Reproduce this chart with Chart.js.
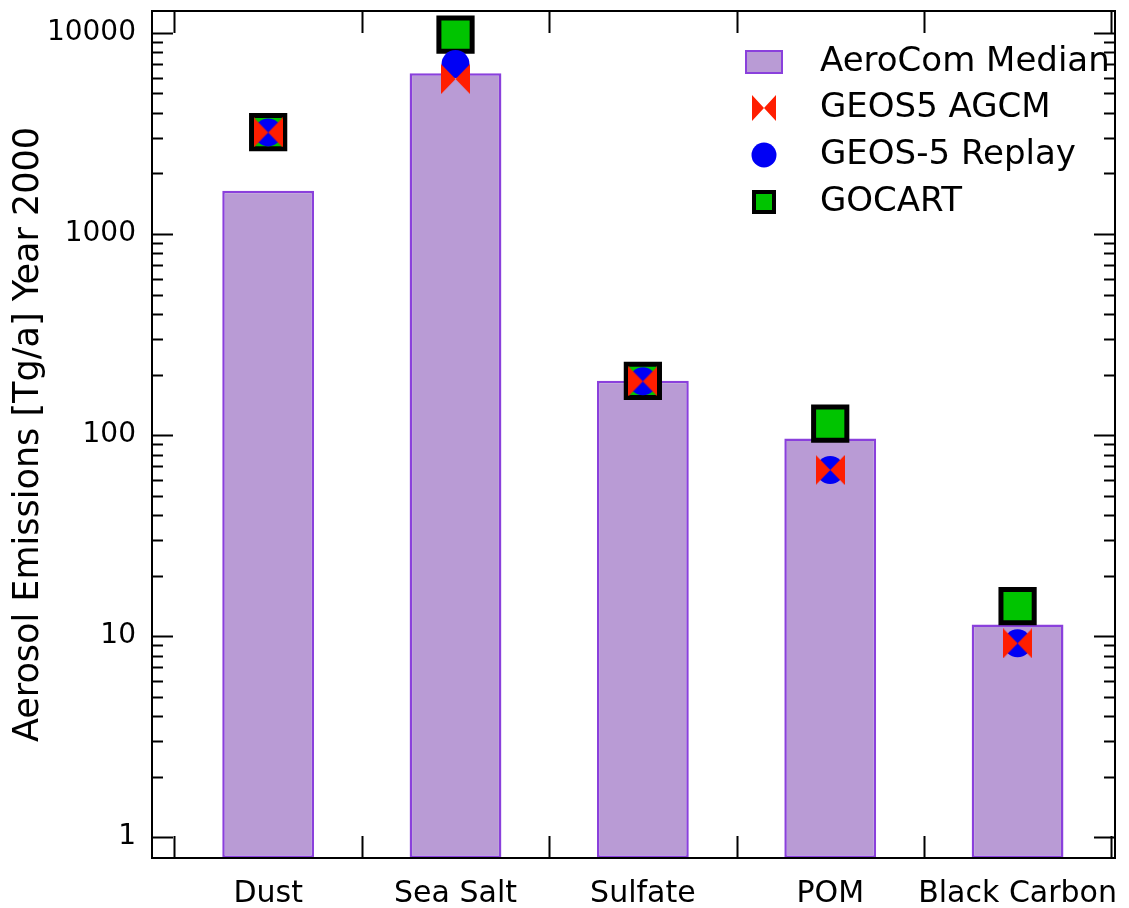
<!DOCTYPE html>
<html>
<head>
<meta charset="utf-8">
<title>Aerosol Emissions</title>
<script src="https://cdn.jsdelivr.net/npm/chart.js@4.4.1/dist/chart.umd.min.js"></script>
<style>
  html, body { margin: 0; padding: 0; background: #fff; }
  #wrap { width: 1129px; height: 908px; position: relative; }
</style>
</head>
<body>
<div id="wrap"><canvas id="emisChart"></canvas></div>
<script>
const categories = ["Dust", "Sea Salt", "Sulfate", "POM", "Black Carbon"];
const aerocomMedian = [1640, 6300, 186, 96, 11.4];
const geos5Agcm = [3200, 5900, 185, 67, 9.2];
const geos5Replay = [3200, 7000, 185, 67, 9.2];
const gocart = [3210, 9800, 186, 114, 14.1];
const yTickLabels = [1, 10, 100, 1000, 10000];

const FONT = "'DejaVu Sans', 'Open Sans', sans-serif";
const PURPLE_FILL = "#b99bd5";
const PURPLE_EDGE = "#8a40dc";
const RED = "#ff1e00";
const BLUE = "#0000f5";
const GREEN = "#00c400";

// bowtie marker, Chart.js has no built-in style for it
function bowtie(w, h) {
  const c = document.createElement("canvas");
  c.width = w; c.height = h;
  const g = c.getContext("2d");
  g.fillStyle = RED;
  g.beginPath();
  g.moveTo(0, 0); g.lineTo(w / 2, h / 2); g.lineTo(0, h); g.closePath();
  g.moveTo(w, 0); g.lineTo(w / 2, h / 2); g.lineTo(w, h); g.closePath();
  g.fill();
  return c;
}
const bowtieMarker = bowtie(29, 30);
const bowtieLegend = bowtie(24, 26);

const pts = arr => arr.map((v, i) => ({ x: i + 1, y: v }));

// frame, inward ticks on all four sides, and the legend box
const framePlugin = {
  id: "frame",
  afterDraw(chart) {
    const { ctx, chartArea: a, scales: { x, y } } = chart;
    ctx.save();
    ctx.strokeStyle = "#000";
    ctx.lineWidth = 2;
    ctx.strokeRect(a.left, a.top, a.right - a.left, a.bottom - a.top);
    ctx.beginPath();
    yTickLabels.forEach(v => {
      for (let m = 1; m <= 9; m++) {
        const val = v * m;
        if (val > y.max) continue;
        const py = Math.round(y.getPixelForValue(val)) + 0.5;
        const len = m === 1 ? 21 : 11;
        ctx.moveTo(a.left, py); ctx.lineTo(a.left + len, py);
        ctx.moveTo(a.right, py); ctx.lineTo(a.right - len, py);
      }
    });
    for (let i = 0; i <= categories.length; i++) {
      const px = Math.round(x.getPixelForValue(i + 0.5)) + 0.5;
      ctx.moveTo(px, a.bottom); ctx.lineTo(px, a.bottom - 22);
      ctx.moveTo(px, a.top); ctx.lineTo(px, a.top + 22);
    }
    ctx.stroke();

    // legend
    const lx = 764, tx = 820, rows = [62, 108, 155, 202];
    const names = ["AeroCom Median", "GEOS5 AGCM", "GEOS-5 Replay", "GOCART"];
    ctx.fillStyle = PURPLE_FILL;
    ctx.strokeStyle = PURPLE_EDGE;
    ctx.lineWidth = 2;
    ctx.fillRect(746, rows[0] - 11, 36, 22);
    ctx.strokeRect(746, rows[0] - 11, 36, 22);
    ctx.drawImage(bowtieLegend, lx - 12, rows[1] - 13);
    ctx.fillStyle = BLUE;
    ctx.beginPath();
    ctx.arc(lx, rows[2], 12.5, 0, Math.PI * 2);
    ctx.fill();
    ctx.fillStyle = GREEN;
    ctx.strokeStyle = "#000";
    ctx.lineWidth = 4;
    ctx.fillRect(lx - 10, rows[3] - 10, 20, 20);
    ctx.strokeRect(lx - 10, rows[3] - 10, 20, 20);

    ctx.fillStyle = "#000";
    ctx.font = "34px " + FONT;
    ctx.textBaseline = "middle";
    ctx.textAlign = "left";
    names.forEach((n, i) => ctx.fillText(n, tx, rows[i]));
    ctx.restore();
  }
};

new Chart(document.getElementById("emisChart"), {
  type: "bar",
  data: {
    datasets: [
      {
        type: "scatter",
        label: "GEOS5 AGCM",
        data: pts(geos5Agcm),
        pointStyle: bowtieMarker,
        clip: false,
        order: 0
      },
      {
        type: "scatter",
        label: "GEOS-5 Replay",
        data: pts(geos5Replay),
        pointStyle: "circle",
        pointRadius: 14,
        backgroundColor: BLUE,
        borderWidth: 0,
        clip: false,
        order: 1
      },
      {
        type: "scatter",
        label: "GOCART",
        data: pts(gocart),
        pointStyle: "rect",
        pointRadius: 23.5,
        backgroundColor: GREEN,
        borderColor: "#000",
        borderWidth: 5,
        clip: false,
        order: 2
      },
      {
        type: "bar",
        label: "AeroCom Median",
        data: pts(aerocomMedian),
        backgroundColor: PURPLE_FILL,
        borderColor: PURPLE_EDGE,
        borderWidth: 2.5,
        borderSkipped: false,
        barPercentage: 0.49,
        categoryPercentage: 1,
        order: 3
      }
    ]
  },
  options: {
    responsive: true,
    maintainAspectRatio: false,
    animation: false,
    layout: { autoPadding: false, padding: { top: 11, right: 14, left: 0, bottom: 0 } },
    plugins: {
      legend: { display: false },
      tooltip: { enabled: false }
    },
    elements: { point: { hoverRadius: 0 } },
    scales: {
      x: {
        type: "linear",
        offset: false,
        min: 0.38,
        max: 5.52,
        grid: { display: false },
        border: { display: false },
        afterBuildTicks: s => { s.ticks = categories.map((c, i) => ({ value: i + 1 })); },
        afterFit: s => { s.height = 50; s.paddingLeft = 0; s.paddingRight = 0; },
        ticks: {
          autoSkip: false,
          maxRotation: 0,
          padding: 10,
          color: "#000",
          font: { family: FONT, size: 30 },
          callback: v => categories[v - 1]
        }
      },
      y: {
        type: "logarithmic",
        min: 0.787,
        max: 12860,
        grid: { display: false },
        border: { display: false },
        afterBuildTicks: s => { s.ticks = yTickLabels.map(v => ({ value: v })); },
        afterFit: s => { s.width = 152; s.paddingTop = 0; s.paddingBottom = 0; },
        title: {
          display: true,
          text: "Aerosol Emissions [Tg/a] Year 2000",
          color: "#000",
          font: { family: FONT, size: 35 },
          padding: { top: 8, bottom: 0 }
        },
        ticks: {
          padding: 8,
          color: "#000",
          font: { family: FONT, size: 28 },
          callback: v => String(v)
        }
      }
    }
  },
  plugins: [framePlugin]
});
</script>
</body>
</html>
